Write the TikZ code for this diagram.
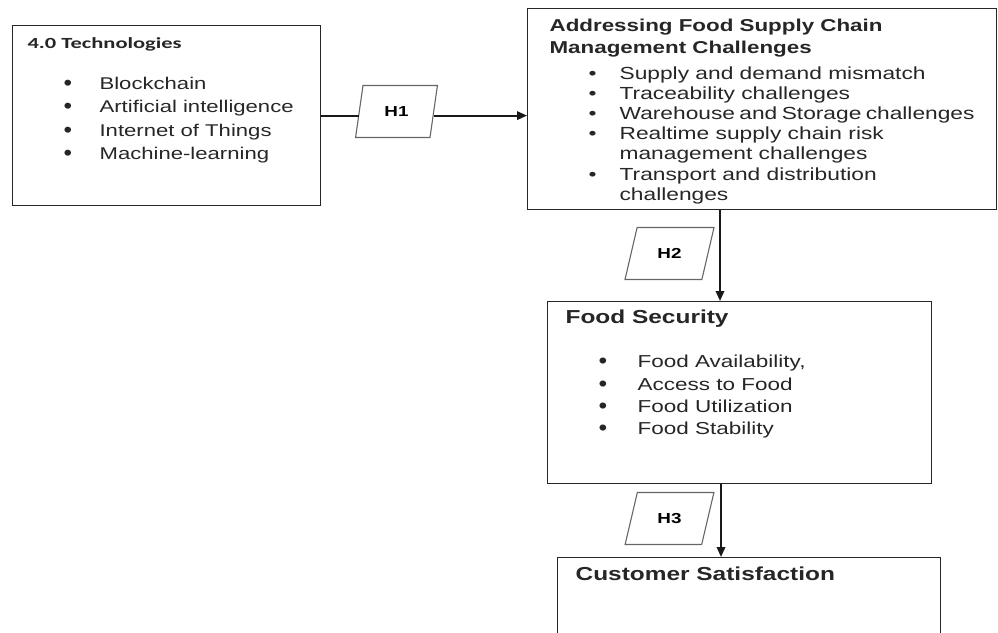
\documentclass[tikz,border=0pt]{standalone}
\usepackage{fontspec}
\setmainfont[FakeStretch=1.3]{Liberation Sans}
\newfontfamily\calfont[FakeStretch=1.45]{Carlito}
\usetikzlibrary{shapes.geometric,arrows.meta}

% bullet lists inside the boxes
\newlength\bulind
\newlength\txtind
\newcommand\dotmark{\raisebox{-1pt}{\scalebox{1.1}[1.3]{\textbullet}}}
\newcommand\itm[1]{\par\hspace*{\bulind}\makebox[\dimexpr\txtind-\bulind\relax][l]{\dotmark}#1}
\newcommand\cnt[1]{\par\hspace*{\txtind}#1}
\newcommand\panel[3]{\parbox[c][#1][t]{#2}{#3}}

\tikzset{
  box/.style={draw=black!85, line width=1.2pt, inner sep=0pt, anchor=north west,
    text=black!85},
  hyp/.style={trapezium, draw=black!60, line width=1.1pt, trapezium stretches=true,
    minimum width=82, minimum height=52, inner sep=0pt,
    font=\bfseries\fontsize{14.5}{16}\selectfont},
  link/.style={line width=1.9pt, draw=black!90, -{Triangle[length=10pt,width=8.5pt]}},
}

\begin{document}
\begin{tikzpicture}[x=1pt, y=-1pt]
    \useasboundingbox (0,0) rectangle (998,632);
    \clip (0,0) rectangle (998,632);

    \node[box, inner xsep=15pt, inner ysep=12pt] (tech) at (12,25) {\panel{156pt}{278pt}{%
        \setlength\bulind{36pt}\setlength\txtind{72pt}%
        {\calfont\bfseries\fontsize{15.5}{18}\selectfont 4.0 Technologies\par}
        \vspace{17.7pt}
        {\fontsize{17}{23.3}\selectfont
        \itm{Blockchain}
        \itm{Artificial intelligence}
        \itm{Internet of Things}
        \itm{Machine-learning}\par}}};

    % tighter lines here, so plain bullets
    \node[box, inner xsep=22pt, inner ysep=10pt] (fscm) at (527,8) {\panel{181pt}{425pt}{%
        \setlength\bulind{39pt}\setlength\txtind{70pt}%
        \renewcommand\dotmark{\textbullet}%
        {\bfseries\fontsize{17.2}{22}\selectfont Addressing Food Supply Chain\\
        Management Challenges\par}
        \vspace{5.8pt}
        {\fontsize{17.5}{20.2}\selectfont
        \itm{Supply and demand mismatch}
        \itm{Traceability challenges}
        \itm{Warehouse and Storage challenges}
        \itm{Realtime supply chain risk}
        \cnt{management challenges}
        \itm{Transport and distribution}
        \cnt{challenges}\par}}};

    \node[box, inner xsep=18pt, inner ysep=8.5pt] (fsec) at (547,301) {\panel{165pt}{348pt}{%
        \setlength\bulind{33pt}\setlength\txtind{72pt}%
        {\bfseries\fontsize{18.8}{22}\selectfont Food Security\par}
        \vspace{21.7pt}
        {\fontsize{17.3}{22.3}\selectfont
        \itm{Food Availability,}
        \itm{Access to Food}
        \itm{Food Utilization}
        \itm{Food Stability}\par}}};

    \node[box, inner xsep=18pt, inner ysep=9.5pt] (cust) at (557,557) {\panel{81pt}{347pt}{%
        {\bfseries\fontsize{18.8}{22}\selectfont Customer Satisfaction\par}}};

    % hypotheses
    \node[hyp, trapezium left angle=75, trapezium right angle=105] (h1) at (396.5,111.5) {H1};
    \node[hyp, trapezium left angle=66, trapezium right angle=114, minimum width=89] (h2) at (669.5,253.5) {H2};
    \node[hyp, trapezium left angle=66, trapezium right angle=114, minimum width=89] (h3) at (669.5,518.5) {H3};

    \coordinate (c2) at (720,0);
    \coordinate (c3) at (721,0);

    \draw[line width=1.9pt, draw=black!90] (tech.east) -- (tech.east -| h1.west);
    \draw[link] (tech.east -| h1.east) -- (tech.east -| fscm.west);
    \draw[link] (fscm.south -| c2) -- (fsec.north -| c2);
    \draw[link] (fsec.south -| c3) -- (cust.north -| c3);

\end{tikzpicture}
\end{document}
